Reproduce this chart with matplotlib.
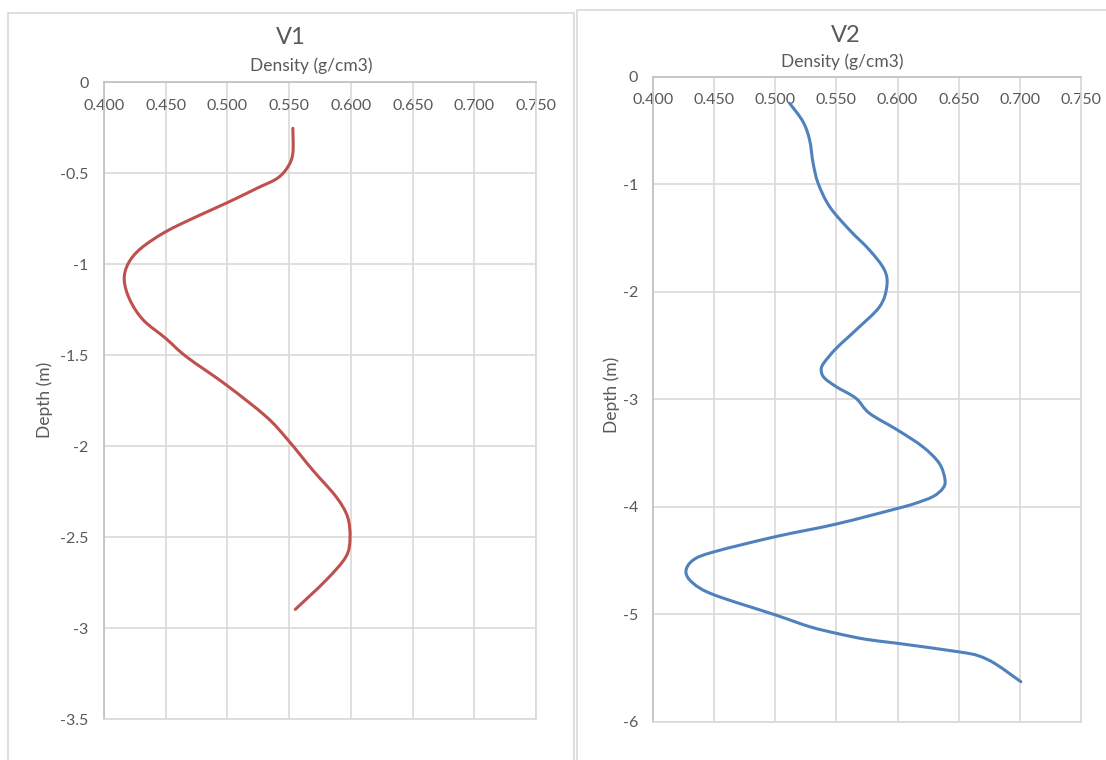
import matplotlib.pyplot as plt
from matplotlib.patches import Rectangle, PathPatch
from matplotlib.path import Path
from matplotlib.ticker import FuncFormatter, MultipleLocator

plt.rcParams['font.family'] = ['Lato', 'DejaVu Sans']
plt.rcParams['axes.unicode_minus'] = False

# V1 profile: density (g/cm3) vs depth (m)
v1_density = [0.553, 0.553, 0.549, 0.5405, 0.524, 0.500, 0.475, 0.450, 0.430,
              0.4197, 0.4164, 0.421, 0.4318, 0.450, 0.4668, 0.4991, 0.5314,
              0.549, 0.569, 0.588, 0.5973, 0.5993, 0.596, 0.580, 0.555]
v1_depth = [-0.253, -0.39, -0.464, -0.527, -0.582, -0.661, -0.738, -0.821, -0.912,
            -0.995, -1.086, -1.196, -1.306, -1.407, -1.508, -1.663, -1.837,
            -1.965, -2.13, -2.277, -2.387, -2.505, -2.607, -2.735, -2.896]

# V2 profile
v2_density = [0.5117, 0.5226, 0.528, 0.5309, 0.535, 0.5444, 0.5607, 0.577, 0.5893,
              0.5912, 0.5853, 0.566, 0.5498, 0.5395, 0.5375, 0.540, 0.5498, 0.566,
              0.577, 0.600, 0.6206, 0.6342, 0.6389, 0.637, 0.629, 0.614, 0.600,
              0.550, 0.500, 0.450, 0.4327, 0.4267, 0.4327, 0.450, 0.500, 0.528,
              0.550, 0.5743, 0.600, 0.6495, 0.666, 0.680, 0.701]
v2_depth = [-0.247, -0.418, -0.588, -0.805, -0.991, -1.208, -1.425, -1.611, -1.797,
            -1.952, -2.139, -2.355, -2.526, -2.665, -2.73, -2.80, -2.883, -2.991,
            -3.13, -3.286, -3.441, -3.596, -3.751, -3.83, -3.905, -3.97, -4.015,
            -4.16, -4.278, -4.418, -4.495, -4.604, -4.712, -4.82, -5.006, -5.115,
            -5.177, -5.233, -5.27, -5.348, -5.385, -5.46, -5.627]

W, H = 1106, 760
GRID = '#D9D9D9'
TXT = '#595959'
FS = 12.5
TICK_FS = 11.5

fig = plt.figure(figsize=(W / 100, H / 100), dpi=100)


def px_axes(x0, y0, x1, y1):
    return fig.add_axes([x0 / W, 1 - y1 / H, (x1 - x0) / W, (y1 - y0) / H])


def ftext(x, y, s, **kw):
    fig.text(x / W, 1 - y / H, s, ha='center', va='center', color=TXT, **kw)


def smooth_line(ax, xs, ys, color):
    # Excel style "smoothed line": bezier segments through the points
    pts = list(zip(xs, ys))
    n = len(pts)
    verts = [pts[0]]
    codes = [Path.MOVETO]
    for i in range(n - 1):
        p0 = pts[max(i - 1, 0)]
        p1 = pts[i]
        p2 = pts[i + 1]
        p3 = pts[min(i + 2, n - 1)]
        c1 = (p1[0] + (p2[0] - p0[0]) / 6, p1[1] + (p2[1] - p0[1]) / 6)
        c2 = (p2[0] - (p3[0] - p1[0]) / 6, p2[1] - (p3[1] - p1[1]) / 6)
        verts += [c1, c2, p2]
        codes += [Path.CURVE4] * 3
    ax.add_patch(PathPatch(Path(verts, codes), fill=False, ec=color, lw=2.2,
                           capstyle='round', joinstyle='round'))


# chart area borders
fig.patches.append(Rectangle((7.5 / W, -0.1), (574 - 7.5) / W, 1.1 - 13 / H,
                             transform=fig.transFigure, fill=False, ec=GRID, lw=1.2))
fig.patches.append(Rectangle((576.5 / W, -0.1), 0.6, 1.1 - 10 / H,
                             transform=fig.transFigure, fill=False, ec=GRID, lw=1.2))


def style(ax, ymin, ystep):
    ax.set_xlim(0.4, 0.75)
    ax.set_ylim(ymin, 0)
    ax.xaxis.set_major_locator(MultipleLocator(0.05))
    ax.yaxis.set_major_locator(MultipleLocator(ystep))
    ax.xaxis.set_major_formatter(FuncFormatter(lambda v, p: '%.3f' % v))
    ax.yaxis.set_major_formatter(FuncFormatter(lambda v, p: '%g' % (v + 0.0)))
    ax.grid(True, color=GRID, lw=1.2)
    ax.set_axisbelow(True)
    for s in ax.spines.values():
        s.set_color(GRID)
        s.set_linewidth(1.2)
    ax.spines['left'].set_color('#BFBFBF')
    ax.spines['top'].set_color('#BFBFBF')
    ax.xaxis.tick_top()
    ax.tick_params(axis='x', length=0, pad=-22, labelsize=TICK_FS, labelcolor=TXT)
    ax.tick_params(axis='y', length=0, pad=11, labelsize=TICK_FS, labelcolor=TXT)


ax1 = px_axes(104, 82.3, 536, 719.3)
style(ax1, -3.5, 0.5)
smooth_line(ax1, v1_density, v1_depth, '#C0504D')

ax2 = px_axes(653.3, 76.8, 1080.7, 721.8)
style(ax2, -6, 1)
smooth_line(ax2, v2_density, v2_depth, '#4F81BD')

ftext(291, 37, 'V1', fontsize=17)
ftext(311, 66, 'Density (g/cm3)', fontsize=FS)
ftext(45, 400, 'Depth (m)', fontsize=FS, rotation=90)

ftext(846, 36, 'V2', fontsize=17)
ftext(842, 62, 'Density (g/cm3)', fontsize=FS)
ftext(612, 395, 'Depth (m)', fontsize=FS, rotation=90)

fig.savefig('out.png', dpi=100)
